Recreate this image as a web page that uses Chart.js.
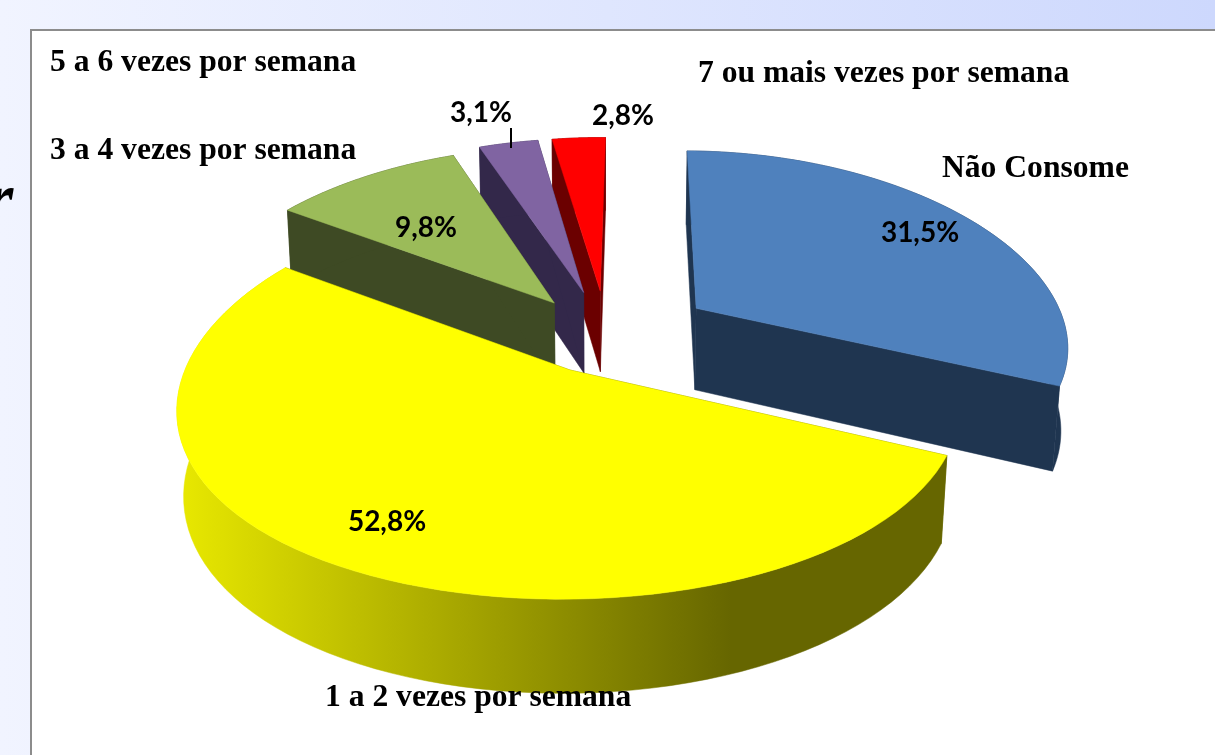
<!DOCTYPE html>
<html lang="pt">
<head>
<meta charset="utf-8">
<title>Consumo por semana</title>
<script src="https://cdn.jsdelivr.net/npm/chart.js@4"></script>
<style>
    html, body { margin: 0; height: 100%; overflow: hidden; }
    body { position: relative; width: 1215px; height: 755px; background: linear-gradient(90deg, #f1f4ff, #cdd8fd); }
    #painel { position: absolute; left: 30px; top: 29px; width: 1190px; height: 740px; background: #fff; border: 2px solid #8c8c8c; }
    #resto { position: absolute; left: -14px; top: 158px; font: italic bold 70px "Liberation Serif", serif; color: #000; }
    canvas { position: absolute; left: 0; top: 0; }
</style>
</head>
<body>
<div id="resto">r</div>
<div id="painel"></div>
<canvas id="grafico" width="1215" height="755"></canvas>
<script>
const categorias = ['Não Consome', '1 a 2 vezes por semana', '3 a 4 vezes por semana', '5 a 6 vezes por semana', '7 ou mais vezes por semana'];
const valores = [31.5, 52.8, 9.8, 3.1, 2.8];
const coresTopo = ['#4f81bd', '#ffff00', '#9bbb59', '#8064a2', '#ff0000'];
const coresLado = ['#1f3550', '#666600', '#3e4a24', '#33284a', '#6b0000'];
const afastamentos = [96, 65, 78, 84, 84];
const ordemDesenho = [4, 3, 2, 0, 1];

// text places, not marks
const posCategorias = [[942, 177], [325, 706], [50, 159], [50, 71], [698, 82]];
const posPercentuais = [[920, 242], [387, 531], [426, 237], [481, 122], [623, 125]];

// projection of the flat pie to the tilted view
const vista = { cx: 607, cy: 337, rx: 373, ry: 187, fugaX: 0.18, fugaY: 0.14, altura: 84, queda: 0.015 };

function projetar(u, v, h) {
    const wx = 1 - vista.fugaX * v + vista.queda * h;
    const wy = 1 - vista.fugaY * v + vista.queda * h;
    return [vista.cx + vista.rx * u / wx, vista.cy + (vista.ry * v + vista.altura * h) / wy];
}

function poligono(ctx, pontos, cor) {
    ctx.beginPath();
    pontos.forEach((p, i) => i ? ctx.lineTo(p[0], p[1]) : ctx.moveTo(p[0], p[1]));
    ctx.closePath();
    ctx.fillStyle = cor;
    ctx.strokeStyle = cor;
    ctx.lineWidth = 0.5;
    ctx.fill();
    ctx.stroke();
}

function desenharFatia(ctx, arco, i) {
    const a = arco.getProps(['startAngle', 'endAngle', 'outerRadius']);
    const meio = (a.startAngle + a.endAngle) / 2;
    const d = arco.options.offset / a.outerRadius;
    const ou = Math.cos(meio) * d;
    const ov = Math.sin(meio) * d;

    const borda = [];
    const passos = 80;
    for (let k = 0; k <= passos; k++) {
        const t = a.startAngle + (a.endAngle - a.startAngle) * k / passos;
        borda.push([ou + Math.cos(t), ov + Math.sin(t)]);
    }
    const ini = borda[0];
    const fim = borda[passos];

    let corLado = coresLado[i];
    if (i === 1) {
        corLado = ctx.createLinearGradient(180, 0, 731, 0);
        corLado.addColorStop(0, '#e8e800');
        corLado.addColorStop(1, '#666600');
    }

    poligono(ctx, [projetar(ou, ov, 0), projetar(ini[0], ini[1], 0), projetar(ini[0], ini[1], 1), projetar(ou, ov, 1)], coresLado[i]);
    poligono(ctx, [projetar(ou, ov, 0), projetar(fim[0], fim[1], 0), projetar(fim[0], fim[1], 1), projetar(ou, ov, 1)], coresLado[i]);
    const lado = borda.map(p => projetar(p[0], p[1], 0)).concat(borda.slice().reverse().map(p => projetar(p[0], p[1], 1)));
    poligono(ctx, lado, corLado);

    const topo = [projetar(ou, ov, 0)].concat(borda.map(p => projetar(p[0], p[1], 0)));
    poligono(ctx, topo, coresTopo[i]);
}

const pizza3d = {
    id: 'pizza3d',
    beforeDatasetsDraw(chart) {
        const ctx = chart.ctx;
        const meta = chart.getDatasetMeta(0);
        ctx.save();
        ordemDesenho.forEach(i => desenharFatia(ctx, meta.data[i], i));
        ctx.restore();
        return false;
    },
    afterDraw(chart) {
        const ctx = chart.ctx;
        ctx.save();
        ctx.fillStyle = '#000';
        ctx.textBaseline = 'alphabetic';

        ctx.font = 'bold 31.6px "Liberation Serif", serif';
        ctx.textAlign = 'left';
        categorias.forEach((c, i) => ctx.fillText(c, posCategorias[i][0], posCategorias[i][1]));

        ctx.font = 'bold 28px Lato, sans-serif';
        ctx.textAlign = 'center';
        valores.forEach((v, i) => ctx.fillText(v.toFixed(1).replace('.', ',') + '%', posPercentuais[i][0], posPercentuais[i][1]));

        // leader line of the 3,1% label
        ctx.strokeStyle = '#000';
        ctx.lineWidth = 2;
        ctx.beginPath();
        ctx.moveTo(511, 128);
        ctx.lineTo(511, 148);
        ctx.stroke();
        ctx.restore();
    }
};

window.onload = function () {
    const ctx = document.getElementById('grafico').getContext('2d');
    new Chart(ctx, {
        type: 'pie',
        data: {
            labels: categorias,
            datasets: [{
                data: valores,
                backgroundColor: coresTopo,
                offset: afastamentos,
                borderWidth: 0
            }]
        },
        options: {
            responsive: false,
            animation: false,
            rotation: 0.8,
            plugins: {
                legend: { display: false },
                tooltip: { enabled: false }
            }
        },
        plugins: [pizza3d]
    });
};
</script>
</body>
</html>
